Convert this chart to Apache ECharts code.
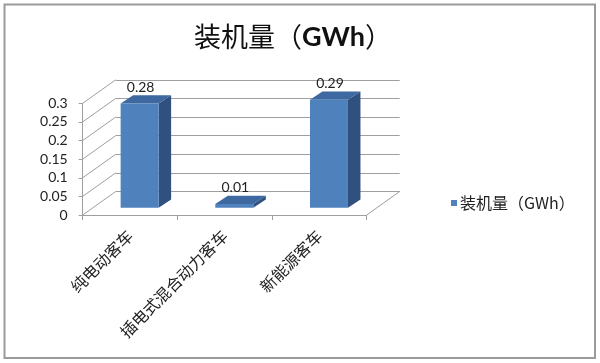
<!DOCTYPE html>
<html>
<head>
<meta charset="utf-8">
<script src="https://cdn.jsdelivr.net/npm/echarts@6/dist/echarts.min.js"></script>
<style>
html,body{margin:0;padding:0;background:#fff;}
#main{width:600px;height:363px;}
</style>
</head>
<body>
<div id="main"></div>
<script>
// ---- data ----
var categories = ['纯电动客车', '插电式混合动力客车', '新能源客车'];
var values = [0.28, 0.01, 0.29];
var seriesName = '装机量（GWh）';
var yTicks = [0, 0.05, 0.1, 0.15, 0.2, 0.25, 0.3];

// ---- styling constants ----
var WALL = [33, -23.5];      // depth of the 3D box
var BAR_SHIFT = [9.6, -7.3]; // bar front plane inside the box
var BAR_DEPTH = [12.5, -8.3];
var BAR_W = 38;
var GRID_COLOR = '#9f9f9f';
var CJK = '"Noto Sans CJK SC", "Noto Sans", sans-serif';
var NUM = 'Lato, "Open Sans", sans-serif';

var chart = echarts.init(document.getElementById('main'), null, {renderer: 'canvas'});

var G1 = {left: 82.7, top: 103.3, width: 284, height: 111.7};
var G2 = {left: G1.left + WALL[0], top: G1.top + WALL[1], width: 284, height: 111.7};

function diagItem(params, api) {
  var v = api.value(0);
  var p = api.coord([0, v]);
  var half = api.size([1, 0])[0] / 2;
  var x0 = p[0] - half;
  var children = [{
    type: 'line',
    shape: {x1: x0, y1: p[1], x2: x0 + WALL[0], y2: p[1] + WALL[1]},
    style: {stroke: GRID_COLOR, lineWidth: 1}
  }];
  if (v === 0) {
    var pr = api.coord([categories.length - 1, 0]);
    var xr = pr[0] + half;
    children.push({
      type: 'line',
      shape: {x1: xr, y1: pr[1], x2: xr + WALL[0], y2: pr[1] + WALL[1]},
      style: {stroke: GRID_COLOR, lineWidth: 1}
    });
  }
  return {type: 'group', children: children};
}

function barItem(params, api) {
  var c = api.coord([api.value(0), api.value(1)]);
  var c0 = api.coord([api.value(0), 0]);
  var fx = c[0] + BAR_SHIFT[0] - BAR_W / 2;
  var top = c[1] + BAR_SHIFT[1];
  var bot = c0[1] + BAR_SHIFT[1];
  var dx = BAR_DEPTH[0], dy = BAR_DEPTH[1];
  return {
    type: 'group',
    children: [
      {type: 'polygon', shape: {points: [[fx + BAR_W, top], [fx + BAR_W + dx, top + dy], [fx + BAR_W + dx, bot + dy], [fx + BAR_W, bot]]},
       style: {fill: '#30507f'}},
      {type: 'polygon', shape: {points: [[fx, top], [fx + dx, top + dy], [fx + BAR_W + dx, top + dy], [fx + BAR_W, top]]},
       style: {fill: '#3d68a0'}},
      {type: 'rect', shape: {x: fx, y: top, width: BAR_W, height: bot - top},
       style: {fill: '#4f81bd'}},
      {type: 'text', x: fx + BAR_W / 2 + 1, y: top + dy - 1,
       style: {text: String(api.value(1)), fill: '#222', font: '14px ' + NUM, align: 'center', verticalAlign: 'bottom'}}
    ]
  };
}

var option = {
  backgroundColor: '#fff',
  animation: false,
  graphic: [
    {type: 'rect', shape: {x: 4.5, y: 4.5, width: 590.5, height: 353.5},
     style: {fill: null, stroke: '#9a9a9a', lineWidth: 2}, z: -1},
    {type: 'text', x: 293, y: 37,
     style: {
       text: '{a|装机量（}{b|GWh}{a|）}', align: 'center', verticalAlign: 'middle',
       rich: {
         a: {font: '27px ' + CJK, fill: '#111'},
         b: {font: 'bold 27px ' + NUM, fill: '#111'}
       }
     }}
  ],
  legend: {
    data: [{name: seriesName, icon: 'rect'}],
    left: 451, top: 195, padding: 0,
    itemWidth: 6, itemHeight: 6, itemGap: 3,
    textStyle: {fontFamily: CJK, fontSize: 16, color: '#222', padding: [0, 0, 0, -2]}
  },
  grid: [
    {left: G1.left, top: G1.top, width: G1.width, height: G1.height},
    {left: G2.left, top: G2.top, width: G2.width, height: G2.height}
  ],
  xAxis: [
    {
      gridIndex: 0, type: 'category', data: categories,
      axisLine: {show: true, lineStyle: {color: GRID_COLOR, width: 1}},
      axisTick: {show: true, length: 5, lineStyle: {color: GRID_COLOR}},
      axisLabel: {rotate: 45, margin: 18, fontFamily: CJK, fontSize: 16, color: '#222', interval: 0}
    },
    {gridIndex: 1, type: 'category', data: categories, show: false}
  ],
  yAxis: [
    {
      gridIndex: 0, type: 'value', min: 0, max: 0.3, interval: 0.05,
      axisLine: {show: true, lineStyle: {color: GRID_COLOR, width: 1}},
      axisTick: {show: true, length: 4, lineStyle: {color: GRID_COLOR}},
      splitLine: {show: false},
      axisLabel: {margin: 15, fontFamily: NUM, fontSize: 14, color: '#222'}
    },
    {
      gridIndex: 1, type: 'value', min: 0, max: 0.3, interval: 0.05,
      axisLine: {show: false}, axisTick: {show: false}, axisLabel: {show: false},
      splitLine: {show: true, lineStyle: {color: GRID_COLOR, width: 1}}
    }
  ],
  series: [
    {
      name: 'walls', type: 'custom', xAxisIndex: 0, yAxisIndex: 0,
      renderItem: diagItem, clip: false, silent: true, z: 1,
      data: yTicks.map(function (t) { return [t]; }),
      encode: {y: 0}
    },
    {
      name: seriesName, type: 'custom', xAxisIndex: 0, yAxisIndex: 0,
      renderItem: barItem, clip: false, z: 5,
      itemStyle: {color: '#4f81bd'},
      data: values.map(function (v, i) { return [i, v]; }),
      encode: {x: 0, y: 1}
    }
  ]
};
chart.setOption(option);
</script>
</body>
</html>
